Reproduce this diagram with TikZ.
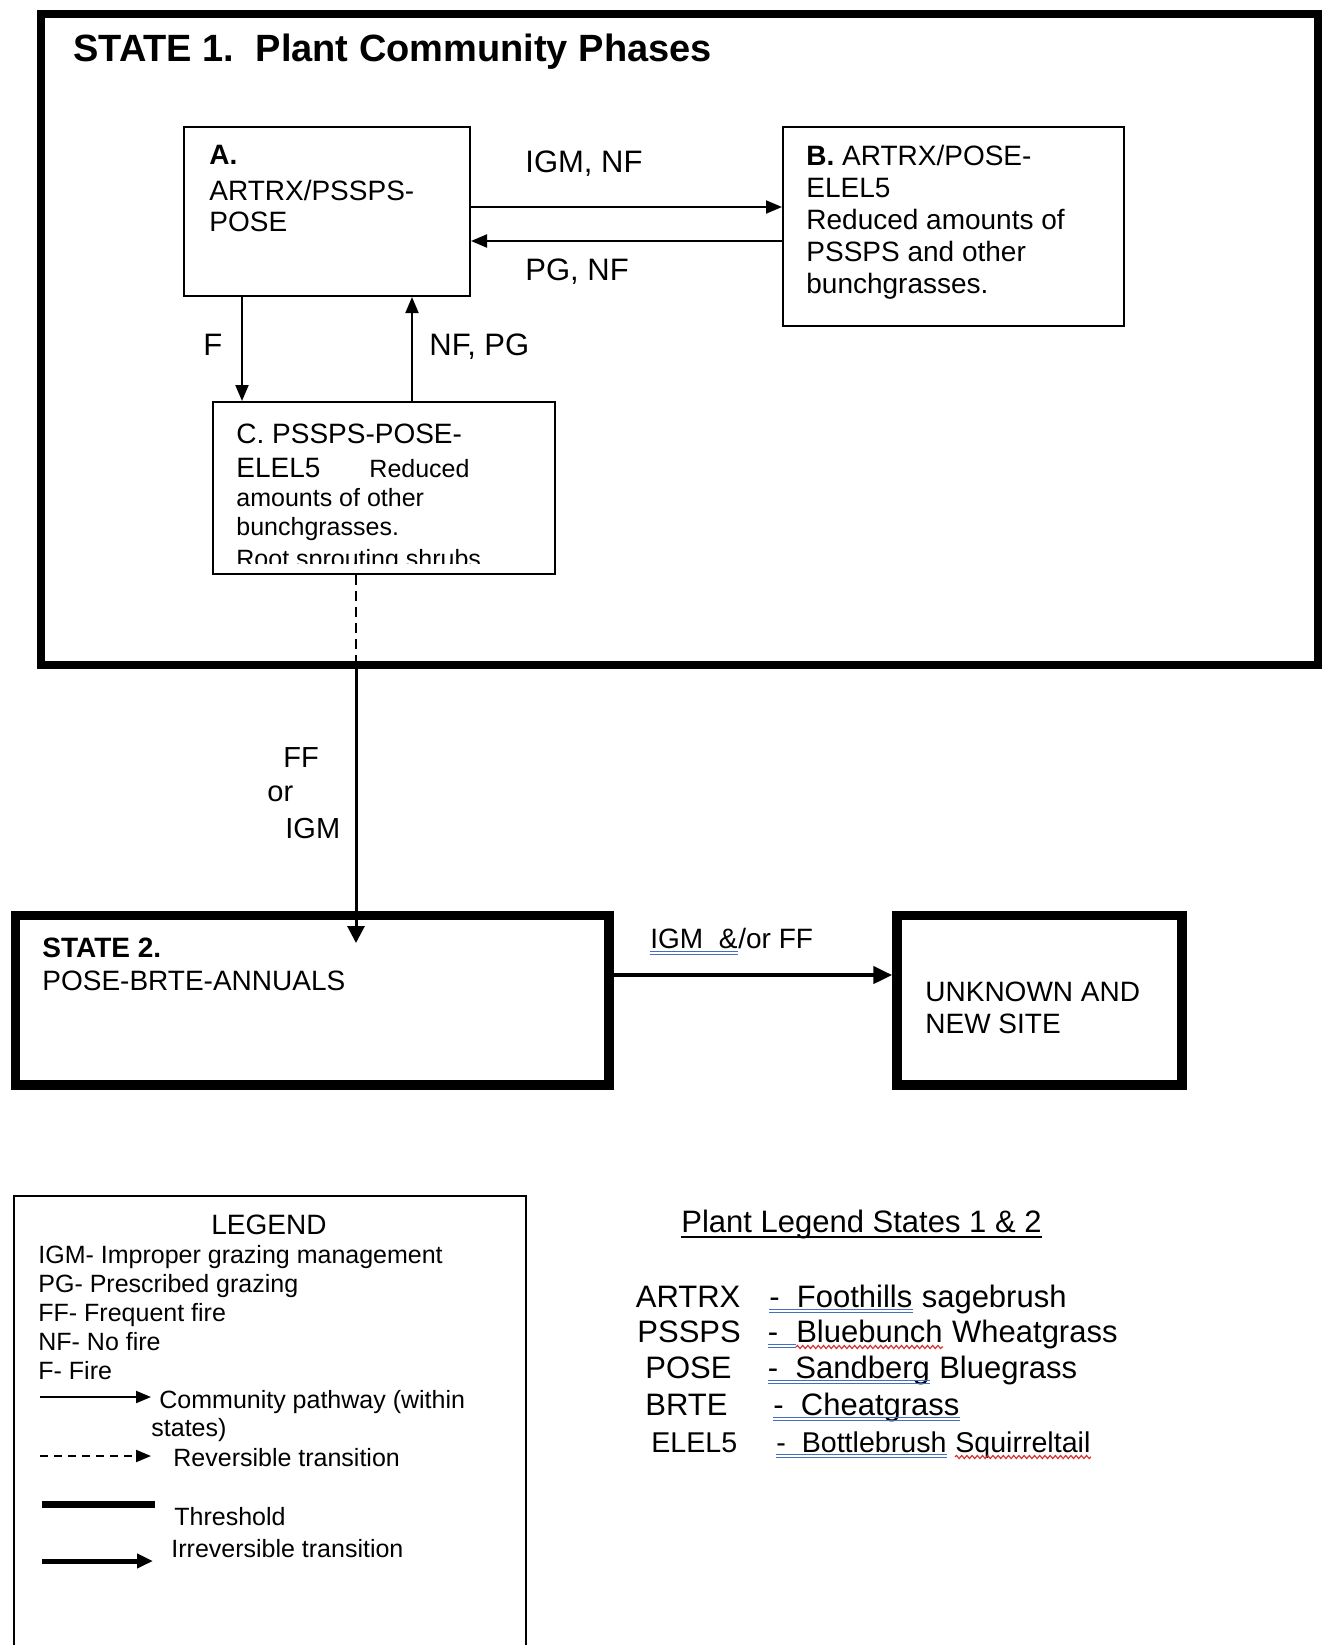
\documentclass[tikz,border=0pt]{standalone}
\usepackage{fontspec}
\setmainfont{Liberation Sans}
\usetikzlibrary{arrows.meta, positioning, decorations.pathmorphing}

\definecolor{spellblue}{RGB}{70,110,190}
\definecolor{spellred}{RGB}{215,40,40}
\newcommand{\fs}[2]{\fontsize{#1}{#2}\selectfont}

\tikzset{
  phase/.style={draw, line width=1pt, inner sep=0pt},
  statebox/.style={draw, line width=4.75pt, inner sep=0pt},
  txt/.style={inner sep=0pt, anchor=base west},
  blk/.style={inner sep=0pt, anchor=north west, align=left},
  lbl/.style={txt, font=\fs{15.5}{18}},
  key/.style={txt, font=\fs{12.5}{15}},
  plant/.style={txt, font=\fs{15.5}{18}},
  pathway/.style={-{Triangle[length=8pt,width=6.5pt]}, line width=1pt},
  trans/.style={-{Triangle[length=8.5pt,width=8.5pt]}, line width=1.5pt},
  spell/.style={draw=spellblue, line width=0.55pt},
  typo/.style={draw=spellred, line width=0.55pt, decorate,
    decoration={snake, amplitude=0.8pt, segment length=2.6pt}}
}

\begin{document}
\begin{tikzpicture}[x=0.5pt, y=-0.5pt]
\useasboundingbox (0,0) rectangle (1324,1645);

% State 1 and its phases
\node[statebox, line width=4.25pt, minimum width=638.5pt, minimum height=325.5pt] (S1) at (679.5,339.5) {};
\node[txt, font=\fs{19}{22}\bfseries] (S1t) at (73,61) {STATE 1.\ \ Plant Community Phases};

\node[phase, minimum width=143pt, minimum height=84.5pt] (A) at (327,211.5) {};
\node[blk, font=\fs{14}{15.5}] (At) at (209,145) {\textbf{A.}\\[2.5pt]ARTRX/PSSPS-\\POSE};

\node[phase, minimum width=170.5pt, minimum height=99.5pt] (B) at (953.5,226.5) {};
\node[blk, font=\fs{14}{16}] (Bt) at (806,145) {\textbf{B.} ARTRX/POSE-\\ELEL5\\Reduced amounts of\\PSSPS and other\\bunchgrasses.};

\node[phase, minimum width=171pt, minimum height=86pt] (C) at (384,488) {};
\node[blk, font=\fs{14}{17}] (Ct) at (236,424) {C. PSSPS-POSE-\\ELEL5\hspace{24.5pt}\fs{12.5}{17}Reduced\\[-2.5pt]
  \fs{12.5}{17}amounts of other\\[-2.5pt]\fs{12.5}{17}bunchgrasses.};
\begin{scope}
  \clip (C.north west) rectangle ([yshift=6pt]C.south east);
  \node[txt, font=\fs{12.5}{15}] (Cr) at (236,567) {Root sprouting shrubs};
\end{scope}

% pathways within state 1
\draw[pathway] (A.east |- 0,207) -- (B.west |- 0,207);
\draw[pathway] (B.west |- 0,241) -- (A.east |- 0,241);
\draw[pathway] (A.south -| 242,0) -- (C.north -| 242,0);
\draw[pathway] (C.north -| 412,0) -- (A.south -| 412,0);
\node[lbl] (AB) at (525,172) {IGM, NF};
\node[lbl] (BA) at (525,280) {PG, NF};
\node[lbl] (AC) at (203,355) {F};
\node[lbl] (CA) at (429,355) {NF, PG};

% transition to state 2
\coordinate (S2in) at (356,943);
\draw[dashed, dash pattern=on 5pt off 3pt, line width=1pt] (C.south -| 356,0) -- (S1.south -| 356,0);
\draw[trans] (S1.south -| 356,0) -- (S2in);
\node[txt, font=\fs{14.5}{17}] (T1) at (283,767) {FF};
\node[txt, font=\fs{14.5}{17}] (T2) at (267,801) {or};
\node[txt, font=\fs{14.5}{17}] (T3) at (285,838) {IGM};

% state 2 and the unknown site
\node[statebox, minimum width=296.75pt, minimum height=84.75pt] (S2) at (312,1000) {};
\node[txt, font=\fs{14}{17}\bfseries] (S2t) at (42,957) {STATE 2.};
\node[txt, font=\fs{14}{17}] (S2n) at (42,990) {POSE-BRTE-ANNUALS};

\node[statebox, minimum width=142.5pt, minimum height=84.75pt] (U) at (1039.5,1000) {};
\node[blk, font=\fs{14}{16}] (Ut) at (925,982) {UNKNOWN AND\\NEW SITE};

\draw[trans, line width=2.25pt, -{Triangle[length=9.5pt,width=8.5pt]}] (S2.east |- 0,975) -- (U.west |- 0,975);
\node[txt, font=\fs{14}{16}] (SU) at (650,948) {IGM\ \ \&};
\node[txt, font=\fs{14}{16}] (SUb) at (SU.base east) {/or FF};
\draw[spell] ([yshift=-1.6pt]SU.base west) -- ([yshift=-1.6pt]SU.base east);
\draw[spell] ([yshift=-3.2pt]SU.base west) -- ([yshift=-3.2pt]SU.base east);

% legend
\node[draw, line width=1.2pt, inner sep=0pt, minimum width=255.75pt, minimum height=252pt] (L) at (270,1448) {};
\node[txt, anchor=base, font=\fs{14}{16}] (Lt) at (269,1234) {LEGEND};
\node[key] (L1) at (38,1263) {IGM- Improper grazing management};
\node[key] (L2) at (38,1292) {PG- Prescribed grazing};
\node[key] (L3) at (38,1321) {FF- Frequent fire};
\node[key] (L4) at (38,1350) {NF- No fire};
\node[key] (L5) at (38,1379) {F- Fire};

\coordinate (k1a) at (40,1397);  \coordinate (k1b) at (151,1397);
\coordinate (k2a) at (40,1456);  \coordinate (k2b) at (151,1456);
\coordinate (k3a) at (42,1504);  \coordinate (k3b) at (155,1504);
\coordinate (k4a) at (42,1561);  \coordinate (k4b) at (153,1561);
\draw[pathway, -{Triangle[length=7.5pt,width=6pt]}] (k1a) -- (k1b);
\draw[pathway, dashed, dash pattern=on 4pt off 3pt, -{Triangle[length=7.5pt,width=6pt]}] (k2a) -- (k2b);
\draw[line width=3.5pt] (k3a) -- (k3b);
\draw[trans, line width=2.5pt, -{Triangle[length=8pt,width=7pt]}] (k4a) -- (k4b);
\node[key] (K1) at (159,1408) {Community pathway (within};
\node[key] (K1b) at (151,1436) {states)};
\node[key] (K2) at (173,1466) {Reversible transition};
\node[key] (K3) at (174,1525) {Threshold};
\node[key] (K4) at (171,1557) {Irreversible transition};

% plant legend
\node[plant] (P0) at (681,1232) {Plant Legend States 1 \& 2};
\draw[line width=0.8pt] ([yshift=-2.5pt]P0.base west) -- ([yshift=-2.5pt]P0.base east);

\node[plant] (P1) at (635.5,1307) {ARTRX};
\node[plant] (P2) at (637,1342) {PSSPS};
\node[plant] (P3) at (645,1378) {POSE};
\node[plant] (P4) at (645,1415) {BRTE};
\node[plant, font=\fs{14.3}{17}] (P5) at (651,1452) {ELEL5};

\node[plant] (D1) at (769,1307) {-\ \ Foothills};
\node[plant] (D1b) at ([xshift=4.3pt]D1.base east) {sagebrush};
\node[plant] (D2) at (767.5,1342) {-\ \ \mbox{}};
\node[plant] (D2b) at (D2.base east) {Bluebunch};
\node[plant] (D2c) at ([xshift=4.3pt]D2b.base east) {Wheatgrass};
\node[plant] (D3) at (767.5,1378) {-\ \ Sandberg};
\node[plant] (D3b) at ([xshift=4.3pt]D3.base east) {Bluegrass};
\node[plant] (D4) at (773,1415) {-\ \ Cheatgrass};
\node[plant, font=\fs{14.3}{17}] (D5) at (776,1452) {-\ \ Bottlebrush};
\node[plant, font=\fs{14.3}{17}] (D5b) at ([xshift=4pt]D5.base east) {Squirreltail};

% spelling marks under the plant names
\draw[spell] ([yshift=-1.2pt]D1.base west) -- ([yshift=-1.2pt]D1.base east);
\draw[spell] ([yshift=-2.8pt]D1.base west) -- ([yshift=-2.8pt]D1.base east);
\draw[spell] ([yshift=-1.2pt]D2.base west) -- ([yshift=-1.2pt]D2.base east);
\draw[spell] ([yshift=-2.8pt]D2.base west) -- ([yshift=-2.8pt]D2.base east);
\draw[spell] ([yshift=-1.2pt]D3.base west) -- ([yshift=-1.2pt]D3.base east);
\draw[spell] ([yshift=-2.8pt]D3.base west) -- ([yshift=-2.8pt]D3.base east);
\draw[spell] ([yshift=-1.2pt]D4.base west) -- ([yshift=-1.2pt]D4.base east);
\draw[spell] ([yshift=-2.8pt]D4.base west) -- ([yshift=-2.8pt]D4.base east);
\draw[spell] ([yshift=-1.2pt]D5.base west) -- ([yshift=-1.2pt]D5.base east);
\draw[spell] ([yshift=-2.8pt]D5.base west) -- ([yshift=-2.8pt]D5.base east);
\draw[typo] ([yshift=-2.5pt]D2b.base west) -- ([yshift=-2.5pt]D2b.base east);
\draw[typo] ([yshift=-2.5pt]D5b.base west) -- ([yshift=-2.5pt]D5b.base east);
\end{tikzpicture}
\end{document}
